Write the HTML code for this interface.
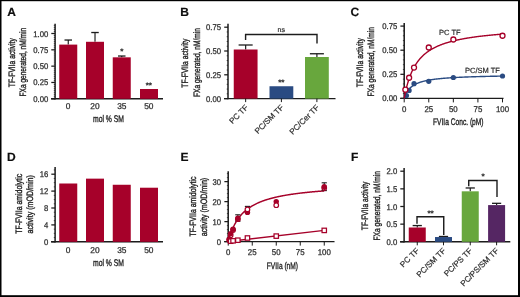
<!DOCTYPE html>
<html><head><meta charset="utf-8"><title>Figure</title>
<style>
html,body{margin:0;padding:0;background:#fff;}
body{width:520px;height:297px;overflow:hidden;position:relative;font-family:"Liberation Sans",sans-serif;}
svg{position:absolute;left:0;top:0;display:block;opacity:0.999;will-change:transform;font-family:"Liberation Sans",sans-serif;}
.bd{position:absolute;background:#000;}
</style></head><body>
<svg width="520" height="297" viewBox="0 0 520 297" text-rendering="geometricPrecision">
<rect x="0" y="0" width="520" height="297" fill="#fff"/>
<defs><filter id="soft" x="0" y="0" width="520" height="297" filterUnits="userSpaceOnUse"><feGaussianBlur stdDeviation="0.38"/></filter></defs>
<g filter="url(#soft)">
<text x="7.30" y="15.90" font-size="12" text-anchor="start" font-weight="bold" fill="#111" stroke="#111" stroke-width="0.2">A</text>
<text x="180.30" y="16.10" font-size="12" text-anchor="start" font-weight="bold" fill="#111" stroke="#111" stroke-width="0.2">B</text>
<text x="350.40" y="15.90" font-size="12" text-anchor="start" font-weight="bold" fill="#111" stroke="#111" stroke-width="0.2">C</text>
<text x="7.10" y="160.60" font-size="12" text-anchor="start" font-weight="bold" fill="#111" stroke="#111" stroke-width="0.2">D</text>
<text x="180.60" y="160.90" font-size="12" text-anchor="start" font-weight="bold" fill="#111" stroke="#111" stroke-width="0.2">E</text>
<text x="351.00" y="160.80" font-size="12" text-anchor="start" font-weight="bold" fill="#111" stroke="#111" stroke-width="0.2">F</text>
<line x1="55.10" y1="23.80" x2="55.10" y2="99.40" stroke="#1a1a1a" stroke-width="1.5"/>
<line x1="51.30" y1="98.80" x2="55.10" y2="98.80" stroke="#1a1a1a" stroke-width="1.25"/>
<text transform="translate(48.30 101.80) scale(0.93 1)" font-size="8.3" text-anchor="end" font-weight="normal" fill="#2b2b2b" stroke="#2b2b2b" stroke-width="0.25">0.00</text>
<line x1="51.30" y1="82.47" x2="55.10" y2="82.47" stroke="#1a1a1a" stroke-width="1.25"/>
<text transform="translate(48.30 85.47) scale(0.93 1)" font-size="8.3" text-anchor="end" font-weight="normal" fill="#2b2b2b" stroke="#2b2b2b" stroke-width="0.25">0.25</text>
<line x1="51.30" y1="66.15" x2="55.10" y2="66.15" stroke="#1a1a1a" stroke-width="1.25"/>
<text transform="translate(48.30 69.15) scale(0.93 1)" font-size="8.3" text-anchor="end" font-weight="normal" fill="#2b2b2b" stroke="#2b2b2b" stroke-width="0.25">0.50</text>
<line x1="51.30" y1="49.83" x2="55.10" y2="49.83" stroke="#1a1a1a" stroke-width="1.25"/>
<text transform="translate(48.30 52.83) scale(0.93 1)" font-size="8.3" text-anchor="end" font-weight="normal" fill="#2b2b2b" stroke="#2b2b2b" stroke-width="0.25">0.75</text>
<line x1="51.30" y1="33.50" x2="55.10" y2="33.50" stroke="#1a1a1a" stroke-width="1.25"/>
<text transform="translate(48.30 36.50) scale(0.93 1)" font-size="8.3" text-anchor="end" font-weight="normal" fill="#2b2b2b" stroke="#2b2b2b" stroke-width="0.25">1.00</text>
<line x1="53.80" y1="96.76" x2="55.10" y2="96.76" stroke="#1a1a1a" stroke-width="0.7"/>
<line x1="53.80" y1="94.72" x2="55.10" y2="94.72" stroke="#1a1a1a" stroke-width="0.7"/>
<line x1="53.80" y1="92.68" x2="55.10" y2="92.68" stroke="#1a1a1a" stroke-width="0.7"/>
<line x1="53.80" y1="90.64" x2="55.10" y2="90.64" stroke="#1a1a1a" stroke-width="0.7"/>
<line x1="53.80" y1="88.60" x2="55.10" y2="88.60" stroke="#1a1a1a" stroke-width="0.7"/>
<line x1="53.80" y1="86.56" x2="55.10" y2="86.56" stroke="#1a1a1a" stroke-width="0.7"/>
<line x1="53.80" y1="84.52" x2="55.10" y2="84.52" stroke="#1a1a1a" stroke-width="0.7"/>
<line x1="53.80" y1="80.43" x2="55.10" y2="80.43" stroke="#1a1a1a" stroke-width="0.7"/>
<line x1="53.80" y1="78.39" x2="55.10" y2="78.39" stroke="#1a1a1a" stroke-width="0.7"/>
<line x1="53.80" y1="76.35" x2="55.10" y2="76.35" stroke="#1a1a1a" stroke-width="0.7"/>
<line x1="53.80" y1="74.31" x2="55.10" y2="74.31" stroke="#1a1a1a" stroke-width="0.7"/>
<line x1="53.80" y1="72.27" x2="55.10" y2="72.27" stroke="#1a1a1a" stroke-width="0.7"/>
<line x1="53.80" y1="70.23" x2="55.10" y2="70.23" stroke="#1a1a1a" stroke-width="0.7"/>
<line x1="53.80" y1="68.19" x2="55.10" y2="68.19" stroke="#1a1a1a" stroke-width="0.7"/>
<line x1="53.80" y1="64.11" x2="55.10" y2="64.11" stroke="#1a1a1a" stroke-width="0.7"/>
<line x1="53.80" y1="62.07" x2="55.10" y2="62.07" stroke="#1a1a1a" stroke-width="0.7"/>
<line x1="53.80" y1="60.03" x2="55.10" y2="60.03" stroke="#1a1a1a" stroke-width="0.7"/>
<line x1="53.80" y1="57.99" x2="55.10" y2="57.99" stroke="#1a1a1a" stroke-width="0.7"/>
<line x1="53.80" y1="55.95" x2="55.10" y2="55.95" stroke="#1a1a1a" stroke-width="0.7"/>
<line x1="53.80" y1="53.91" x2="55.10" y2="53.91" stroke="#1a1a1a" stroke-width="0.7"/>
<line x1="53.80" y1="51.87" x2="55.10" y2="51.87" stroke="#1a1a1a" stroke-width="0.7"/>
<line x1="53.80" y1="47.78" x2="55.10" y2="47.78" stroke="#1a1a1a" stroke-width="0.7"/>
<line x1="53.80" y1="45.74" x2="55.10" y2="45.74" stroke="#1a1a1a" stroke-width="0.7"/>
<line x1="53.80" y1="43.70" x2="55.10" y2="43.70" stroke="#1a1a1a" stroke-width="0.7"/>
<line x1="53.80" y1="41.66" x2="55.10" y2="41.66" stroke="#1a1a1a" stroke-width="0.7"/>
<line x1="53.80" y1="39.62" x2="55.10" y2="39.62" stroke="#1a1a1a" stroke-width="0.7"/>
<line x1="53.80" y1="37.58" x2="55.10" y2="37.58" stroke="#1a1a1a" stroke-width="0.7"/>
<line x1="53.80" y1="35.54" x2="55.10" y2="35.54" stroke="#1a1a1a" stroke-width="0.7"/>
<line x1="53.80" y1="31.46" x2="55.10" y2="31.46" stroke="#1a1a1a" stroke-width="0.7"/>
<line x1="53.80" y1="29.42" x2="55.10" y2="29.42" stroke="#1a1a1a" stroke-width="0.7"/>
<line x1="53.80" y1="27.38" x2="55.10" y2="27.38" stroke="#1a1a1a" stroke-width="0.7"/>
<line x1="53.80" y1="25.34" x2="55.10" y2="25.34" stroke="#1a1a1a" stroke-width="0.7"/>
<line x1="51.10" y1="98.80" x2="163.00" y2="98.80" stroke="#1a1a1a" stroke-width="1.4"/>
<line x1="68.25" y1="40.03" x2="68.25" y2="44.60" stroke="#1a1a1a" stroke-width="1.15"/>
<line x1="64.50" y1="40.03" x2="72.00" y2="40.03" stroke="#1a1a1a" stroke-width="1.3"/>
<rect x="59.25" y="44.60" width="18.00" height="54.20" fill="#A60029"/>
<line x1="95.00" y1="32.52" x2="95.00" y2="41.79" stroke="#1a1a1a" stroke-width="1.15"/>
<line x1="91.25" y1="32.52" x2="98.75" y2="32.52" stroke="#1a1a1a" stroke-width="1.3"/>
<rect x="86.00" y="41.79" width="18.00" height="57.01" fill="#A60029"/>
<line x1="121.75" y1="56.03" x2="121.75" y2="57.33" stroke="#1a1a1a" stroke-width="1.15"/>
<line x1="118.00" y1="56.03" x2="125.50" y2="56.03" stroke="#1a1a1a" stroke-width="1.3"/>
<rect x="112.75" y="57.33" width="18.00" height="41.47" fill="#A60029"/>
<rect x="140.00" y="89.00" width="18.00" height="9.79" fill="#A60029"/>
<text transform="translate(68.00 109.40) scale(1.0 1)" font-size="8.4" text-anchor="middle" font-weight="normal" fill="#2b2b2b" stroke="#2b2b2b" stroke-width="0.25">0</text>
<text transform="translate(95.00 109.40) scale(1.0 1)" font-size="8.4" text-anchor="middle" font-weight="normal" fill="#2b2b2b" stroke="#2b2b2b" stroke-width="0.25">20</text>
<text transform="translate(121.80 109.40) scale(1.0 1)" font-size="8.4" text-anchor="middle" font-weight="normal" fill="#2b2b2b" stroke="#2b2b2b" stroke-width="0.25">35</text>
<text transform="translate(148.80 109.40) scale(1.0 1)" font-size="8.4" text-anchor="middle" font-weight="normal" fill="#2b2b2b" stroke="#2b2b2b" stroke-width="0.25">50</text>
<text x="108.50" y="122.40" font-size="9.6" text-anchor="middle" fill="#222" stroke="#222" stroke-width="0.35" textLength="31.00" lengthAdjust="spacingAndGlyphs">mol % SM</text>
<text x="121.80" y="54.00" font-size="8" text-anchor="middle" font-weight="bold" fill="#2b2b2b" stroke="#2b2b2b" stroke-width="0.2">*</text>
<text x="148.80" y="87.70" font-size="8" text-anchor="middle" font-weight="bold" fill="#2b2b2b" stroke="#2b2b2b" stroke-width="0.2">**</text>
<text x="15.20" y="62.70" font-size="9.3" text-anchor="middle" fill="#222" stroke="#222" stroke-width="0.35" textLength="49.00" lengthAdjust="spacingAndGlyphs" transform="rotate(-90 15.20 62.70)">TF-FVIIa activity</text>
<text x="26.00" y="62.20" font-size="9.3" text-anchor="middle" fill="#222" stroke="#222" stroke-width="0.35" textLength="68.50" lengthAdjust="spacingAndGlyphs" transform="rotate(-90 26.00 62.20)">FXa generated, nM/min</text>
<line x1="228.00" y1="23.80" x2="228.00" y2="99.20" stroke="#1a1a1a" stroke-width="1.5"/>
<line x1="224.20" y1="98.60" x2="228.00" y2="98.60" stroke="#1a1a1a" stroke-width="1.25"/>
<text transform="translate(221.10 101.60) scale(0.93 1)" font-size="8.3" text-anchor="end" font-weight="normal" fill="#2b2b2b" stroke="#2b2b2b" stroke-width="0.25">0.00</text>
<line x1="224.20" y1="74.80" x2="228.00" y2="74.80" stroke="#1a1a1a" stroke-width="1.25"/>
<text transform="translate(221.10 77.80) scale(0.93 1)" font-size="8.3" text-anchor="end" font-weight="normal" fill="#2b2b2b" stroke="#2b2b2b" stroke-width="0.25">0.25</text>
<line x1="224.20" y1="51.00" x2="228.00" y2="51.00" stroke="#1a1a1a" stroke-width="1.25"/>
<text transform="translate(221.10 54.00) scale(0.93 1)" font-size="8.3" text-anchor="end" font-weight="normal" fill="#2b2b2b" stroke="#2b2b2b" stroke-width="0.25">0.50</text>
<line x1="224.20" y1="27.20" x2="228.00" y2="27.20" stroke="#1a1a1a" stroke-width="1.25"/>
<text transform="translate(221.10 30.20) scale(0.93 1)" font-size="8.3" text-anchor="end" font-weight="normal" fill="#2b2b2b" stroke="#2b2b2b" stroke-width="0.25">0.75</text>
<line x1="226.70" y1="93.84" x2="228.00" y2="93.84" stroke="#1a1a1a" stroke-width="0.7"/>
<line x1="226.70" y1="89.08" x2="228.00" y2="89.08" stroke="#1a1a1a" stroke-width="0.7"/>
<line x1="226.70" y1="84.32" x2="228.00" y2="84.32" stroke="#1a1a1a" stroke-width="0.7"/>
<line x1="226.70" y1="79.56" x2="228.00" y2="79.56" stroke="#1a1a1a" stroke-width="0.7"/>
<line x1="226.70" y1="70.04" x2="228.00" y2="70.04" stroke="#1a1a1a" stroke-width="0.7"/>
<line x1="226.70" y1="65.28" x2="228.00" y2="65.28" stroke="#1a1a1a" stroke-width="0.7"/>
<line x1="226.70" y1="60.52" x2="228.00" y2="60.52" stroke="#1a1a1a" stroke-width="0.7"/>
<line x1="226.70" y1="55.76" x2="228.00" y2="55.76" stroke="#1a1a1a" stroke-width="0.7"/>
<line x1="226.70" y1="46.24" x2="228.00" y2="46.24" stroke="#1a1a1a" stroke-width="0.7"/>
<line x1="226.70" y1="41.48" x2="228.00" y2="41.48" stroke="#1a1a1a" stroke-width="0.7"/>
<line x1="226.70" y1="36.72" x2="228.00" y2="36.72" stroke="#1a1a1a" stroke-width="0.7"/>
<line x1="226.70" y1="31.96" x2="228.00" y2="31.96" stroke="#1a1a1a" stroke-width="0.7"/>
<line x1="224.00" y1="98.60" x2="335.50" y2="98.60" stroke="#1a1a1a" stroke-width="1.4"/>
<line x1="245.65" y1="45.00" x2="245.65" y2="49.50" stroke="#1a1a1a" stroke-width="1.15"/>
<line x1="238.65" y1="45.00" x2="252.65" y2="45.00" stroke="#1a1a1a" stroke-width="1.3"/>
<rect x="233.75" y="49.50" width="23.80" height="49.10" fill="#A60029"/>
<line x1="245.65" y1="98.60" x2="245.65" y2="102.10" stroke="#1a1a1a" stroke-width="1"/>
<rect x="269.50" y="86.25" width="23.80" height="12.35" fill="#2A4B82"/>
<line x1="281.40" y1="98.60" x2="281.40" y2="102.10" stroke="#1a1a1a" stroke-width="1"/>
<line x1="316.90" y1="53.76" x2="316.90" y2="57.00" stroke="#1a1a1a" stroke-width="1.15"/>
<line x1="309.90" y1="53.76" x2="323.90" y2="53.76" stroke="#1a1a1a" stroke-width="1.3"/>
<rect x="305.00" y="57.00" width="23.80" height="41.60" fill="#68A73E"/>
<line x1="316.90" y1="98.60" x2="316.90" y2="102.10" stroke="#1a1a1a" stroke-width="1"/>
<path d="M245.6 40 V34.5 H317 V43.6" fill="none" stroke="#1a1a1a" stroke-width="1.4"/>
<text x="281.30" y="31.80" font-size="7" text-anchor="middle" font-weight="normal" fill="#2b2b2b" stroke="#2b2b2b" stroke-width="0.2">ns</text>
<text x="281.30" y="84.50" font-size="8" text-anchor="middle" font-weight="bold" fill="#2b2b2b" stroke="#2b2b2b" stroke-width="0.2">**</text>
<text x="248.70" y="108.00" font-size="8" text-anchor="end" font-weight="normal" fill="#2b2b2b" stroke="#2b2b2b" stroke-width="0.2" transform="rotate(-45 248.70 108.00)">PC TF</text>
<text x="284.20" y="108.00" font-size="8" text-anchor="end" font-weight="normal" fill="#2b2b2b" stroke="#2b2b2b" stroke-width="0.2" transform="rotate(-45 284.20 108.00)">PC/SM TF</text>
<text x="319.70" y="108.00" font-size="8" text-anchor="end" font-weight="normal" fill="#2b2b2b" stroke="#2b2b2b" stroke-width="0.2" transform="rotate(-45 319.70 108.00)">PC/Cer TF</text>
<text x="188.30" y="63.20" font-size="9.3" text-anchor="middle" fill="#222" stroke="#222" stroke-width="0.35" textLength="49.00" lengthAdjust="spacingAndGlyphs" transform="rotate(-90 188.30 63.20)">TF-FVIIa activity</text>
<text x="199.50" y="62.50" font-size="9.3" text-anchor="middle" fill="#222" stroke="#222" stroke-width="0.35" textLength="69.00" lengthAdjust="spacingAndGlyphs" transform="rotate(-90 199.50 62.50)">FXa generated, nM/min</text>
<line x1="404.20" y1="22.90" x2="404.20" y2="99.00" stroke="#1a1a1a" stroke-width="1.5"/>
<line x1="400.40" y1="98.40" x2="404.20" y2="98.40" stroke="#1a1a1a" stroke-width="1.25"/>
<text transform="translate(397.30 101.40) scale(0.93 1)" font-size="8.3" text-anchor="end" font-weight="normal" fill="#2b2b2b" stroke="#2b2b2b" stroke-width="0.25">0.00</text>
<line x1="400.40" y1="74.30" x2="404.20" y2="74.30" stroke="#1a1a1a" stroke-width="1.25"/>
<text transform="translate(397.30 77.30) scale(0.93 1)" font-size="8.3" text-anchor="end" font-weight="normal" fill="#2b2b2b" stroke="#2b2b2b" stroke-width="0.25">0.25</text>
<line x1="400.40" y1="50.20" x2="404.20" y2="50.20" stroke="#1a1a1a" stroke-width="1.25"/>
<text transform="translate(397.30 53.20) scale(0.93 1)" font-size="8.3" text-anchor="end" font-weight="normal" fill="#2b2b2b" stroke="#2b2b2b" stroke-width="0.25">0.50</text>
<line x1="400.40" y1="26.10" x2="404.20" y2="26.10" stroke="#1a1a1a" stroke-width="1.25"/>
<text transform="translate(397.30 29.10) scale(0.93 1)" font-size="8.3" text-anchor="end" font-weight="normal" fill="#2b2b2b" stroke="#2b2b2b" stroke-width="0.25">0.75</text>
<line x1="402.90" y1="93.58" x2="404.20" y2="93.58" stroke="#1a1a1a" stroke-width="0.7"/>
<line x1="402.90" y1="88.76" x2="404.20" y2="88.76" stroke="#1a1a1a" stroke-width="0.7"/>
<line x1="402.90" y1="83.94" x2="404.20" y2="83.94" stroke="#1a1a1a" stroke-width="0.7"/>
<line x1="402.90" y1="79.12" x2="404.20" y2="79.12" stroke="#1a1a1a" stroke-width="0.7"/>
<line x1="402.90" y1="69.48" x2="404.20" y2="69.48" stroke="#1a1a1a" stroke-width="0.7"/>
<line x1="402.90" y1="64.66" x2="404.20" y2="64.66" stroke="#1a1a1a" stroke-width="0.7"/>
<line x1="402.90" y1="59.84" x2="404.20" y2="59.84" stroke="#1a1a1a" stroke-width="0.7"/>
<line x1="402.90" y1="55.02" x2="404.20" y2="55.02" stroke="#1a1a1a" stroke-width="0.7"/>
<line x1="402.90" y1="45.38" x2="404.20" y2="45.38" stroke="#1a1a1a" stroke-width="0.7"/>
<line x1="402.90" y1="40.56" x2="404.20" y2="40.56" stroke="#1a1a1a" stroke-width="0.7"/>
<line x1="402.90" y1="35.74" x2="404.20" y2="35.74" stroke="#1a1a1a" stroke-width="0.7"/>
<line x1="402.90" y1="30.92" x2="404.20" y2="30.92" stroke="#1a1a1a" stroke-width="0.7"/>
<line x1="400.20" y1="98.40" x2="503.50" y2="98.40" stroke="#1a1a1a" stroke-width="1.4"/>
<line x1="404.20" y1="98.40" x2="404.20" y2="102.40" stroke="#1a1a1a" stroke-width="1"/>
<text transform="translate(404.20 111.70) scale(0.95 1)" font-size="8.3" text-anchor="middle" font-weight="normal" fill="#2b2b2b" stroke="#2b2b2b" stroke-width="0.25">0</text>
<line x1="428.77" y1="98.40" x2="428.77" y2="102.40" stroke="#1a1a1a" stroke-width="1"/>
<text transform="translate(428.77 111.70) scale(0.95 1)" font-size="8.3" text-anchor="middle" font-weight="normal" fill="#2b2b2b" stroke="#2b2b2b" stroke-width="0.25">25</text>
<line x1="453.35" y1="98.40" x2="453.35" y2="102.40" stroke="#1a1a1a" stroke-width="1"/>
<text transform="translate(453.35 111.70) scale(0.95 1)" font-size="8.3" text-anchor="middle" font-weight="normal" fill="#2b2b2b" stroke="#2b2b2b" stroke-width="0.25">50</text>
<line x1="477.92" y1="98.40" x2="477.92" y2="102.40" stroke="#1a1a1a" stroke-width="1"/>
<text transform="translate(477.92 111.70) scale(0.95 1)" font-size="8.3" text-anchor="middle" font-weight="normal" fill="#2b2b2b" stroke="#2b2b2b" stroke-width="0.25">75</text>
<line x1="502.50" y1="98.40" x2="502.50" y2="102.40" stroke="#1a1a1a" stroke-width="1"/>
<text transform="translate(502.50 111.70) scale(0.95 1)" font-size="8.3" text-anchor="middle" font-weight="normal" fill="#2b2b2b" stroke="#2b2b2b" stroke-width="0.25">100</text>
<text x="458.30" y="125.40" font-size="9.6" text-anchor="middle" fill="#222" stroke="#222" stroke-width="0.35" textLength="50.50" lengthAdjust="spacingAndGlyphs">FVIIa Conc. (pM)</text>
<path d="M404.20 98.40 404.69 96.98 405.18 95.72 405.67 94.59 406.17 93.58 406.66 92.66 407.15 91.83 407.64 91.07 408.13 90.37 408.62 89.72 409.12 89.13 409.61 88.58 410.10 88.07 410.59 87.60 411.08 87.15 411.57 86.74 412.06 86.35 412.56 85.98 413.05 85.64 413.54 85.32 414.03 85.01 414.52 84.72 415.01 84.45 415.50 84.19 416.00 83.94 416.49 83.70 416.98 83.48 417.47 83.27 417.96 83.06 418.45 82.87 418.94 82.68 419.44 82.50 419.93 82.33 420.42 82.17 420.91 82.01 421.40 81.86 421.89 81.72 422.39 81.58 422.88 81.44 423.37 81.31 423.86 81.19 424.35 81.06 424.84 80.95 425.33 80.84 425.83 80.73 426.32 80.62 426.81 80.52 427.30 80.42 427.79 80.33 428.28 80.23 428.77 80.14 429.27 80.06 429.76 79.97 430.25 79.89 430.74 79.81 431.23 79.73 431.72 79.66 432.22 79.58 432.71 79.51 433.20 79.44 433.69 79.37 434.18 79.31 434.67 79.24 435.16 79.18 435.66 79.12 436.15 79.06 436.64 79.00 437.13 78.95 437.62 78.89 438.11 78.84 438.61 78.78 439.10 78.73 439.59 78.68 440.08 78.63 440.57 78.58 441.06 78.54 441.55 78.49 442.05 78.45 442.54 78.40 443.03 78.36 443.52 78.32 444.01 78.28 444.50 78.23 444.99 78.19 445.49 78.16 445.98 78.12 446.47 78.08 446.96 78.04 447.45 78.01 447.94 77.97 448.44 77.94 448.93 77.90 449.42 77.87 449.91 77.84 450.40 77.81 450.89 77.77 451.38 77.74 451.88 77.71 452.37 77.68 452.86 77.65 453.35 77.62 453.84 77.60 454.33 77.57 454.82 77.54 455.32 77.51 455.81 77.49 456.30 77.46 456.79 77.43 457.28 77.41 457.77 77.38 458.26 77.36 458.76 77.34 459.25 77.31 459.74 77.29 460.23 77.27 460.72 77.24 461.21 77.22 461.71 77.20 462.20 77.18 462.69 77.16 463.18 77.14 463.67 77.11 464.16 77.09 464.65 77.07 465.15 77.05 465.64 77.03 466.13 77.02 466.62 77.00 467.11 76.98 467.60 76.96 468.09 76.94 468.59 76.92 469.08 76.91 469.57 76.89 470.06 76.87 470.55 76.85 471.04 76.84 471.54 76.82 472.03 76.80 472.52 76.79 473.01 76.77 473.50 76.76 473.99 76.74 474.48 76.73 474.98 76.71 475.47 76.70 475.96 76.68 476.45 76.67 476.94 76.65 477.43 76.64 477.92 76.62 478.42 76.61 478.91 76.60 479.40 76.58 479.89 76.57 480.38 76.55 480.87 76.54 481.37 76.53 481.86 76.52 482.35 76.50 482.84 76.49 483.33 76.48 483.82 76.47 484.31 76.45 484.81 76.44 485.30 76.43 485.79 76.42 486.28 76.41 486.77 76.40 487.26 76.38 487.75 76.37 488.25 76.36 488.74 76.35 489.23 76.34 489.72 76.33 490.21 76.32 490.70 76.31 491.20 76.30 491.69 76.29 492.18 76.28 492.67 76.27 493.16 76.26 493.65 76.25 494.14 76.24 494.64 76.23 495.13 76.22 495.62 76.21 496.11 76.20 496.60 76.19 497.09 76.18 497.58 76.17 498.08 76.16 498.57 76.15 499.06 76.14 499.55 76.14 500.04 76.13 500.53 76.12 501.03 76.11 501.52 76.10 502.01 76.09 502.50 76.09 " fill="none" stroke="#2A4B82" stroke-width="1.4"/>
<circle cx="406.46" cy="95.51" r="2.6" fill="#2A4B82"/>
<circle cx="409.12" cy="90.40" r="2.6" fill="#2A4B82"/>
<circle cx="414.03" cy="83.65" r="2.6" fill="#2A4B82"/>
<circle cx="428.77" cy="81.34" r="2.6" fill="#2A4B82"/>
<circle cx="453.35" cy="77.50" r="2.6" fill="#2A4B82"/>
<circle cx="502.50" cy="76.00" r="2.6" fill="#2A4B82"/>
<path d="M404.20 98.40 404.69 95.79 405.18 93.37 405.67 91.10 406.17 88.98 406.66 87.00 407.15 85.13 407.64 83.38 408.13 81.72 408.62 80.16 409.12 78.68 409.61 77.28 410.10 75.95 410.59 74.68 411.08 73.48 411.57 72.34 412.06 71.25 412.56 70.21 413.05 69.21 413.54 68.26 414.03 67.35 414.52 66.47 415.01 65.64 415.50 64.83 416.00 64.06 416.49 63.32 416.98 62.60 417.47 61.91 417.96 61.25 418.45 60.61 418.94 59.99 419.44 59.40 419.93 58.82 420.42 58.26 420.91 57.73 421.40 57.20 421.89 56.70 422.39 56.21 422.88 55.74 423.37 55.28 423.86 54.83 424.35 54.40 424.84 53.98 425.33 53.57 425.83 53.18 426.32 52.79 426.81 52.42 427.30 52.05 427.79 51.70 428.28 51.35 428.77 51.01 429.27 50.69 429.76 50.37 430.25 50.05 430.74 49.75 431.23 49.45 431.72 49.16 432.22 48.88 432.71 48.61 433.20 48.34 433.69 48.07 434.18 47.82 434.67 47.56 435.16 47.32 435.66 47.08 436.15 46.84 436.64 46.61 437.13 46.39 437.62 46.17 438.11 45.95 438.61 45.74 439.10 45.53 439.59 45.33 440.08 45.13 440.57 44.93 441.06 44.74 441.55 44.55 442.05 44.37 442.54 44.19 443.03 44.01 443.52 43.84 444.01 43.67 444.50 43.50 444.99 43.34 445.49 43.18 445.98 43.02 446.47 42.86 446.96 42.71 447.45 42.56 447.94 42.41 448.44 42.27 448.93 42.12 449.42 41.98 449.91 41.84 450.40 41.71 450.89 41.58 451.38 41.44 451.88 41.31 452.37 41.19 452.86 41.06 453.35 40.94 453.84 40.82 454.33 40.70 454.82 40.58 455.32 40.47 455.81 40.35 456.30 40.24 456.79 40.13 457.28 40.02 457.77 39.91 458.26 39.81 458.76 39.70 459.25 39.60 459.74 39.50 460.23 39.40 460.72 39.30 461.21 39.20 461.71 39.11 462.20 39.01 462.69 38.92 463.18 38.83 463.67 38.74 464.16 38.65 464.65 38.56 465.15 38.47 465.64 38.39 466.13 38.30 466.62 38.22 467.11 38.14 467.60 38.06 468.09 37.98 468.59 37.90 469.08 37.82 469.57 37.74 470.06 37.66 470.55 37.59 471.04 37.51 471.54 37.44 472.03 37.37 472.52 37.29 473.01 37.22 473.50 37.15 473.99 37.08 474.48 37.02 474.98 36.95 475.47 36.88 475.96 36.81 476.45 36.75 476.94 36.68 477.43 36.62 477.92 36.56 478.42 36.49 478.91 36.43 479.40 36.37 479.89 36.31 480.38 36.25 480.87 36.19 481.37 36.13 481.86 36.08 482.35 36.02 482.84 35.96 483.33 35.91 483.82 35.85 484.31 35.80 484.81 35.74 485.30 35.69 485.79 35.63 486.28 35.58 486.77 35.53 487.26 35.48 487.75 35.43 488.25 35.38 488.74 35.33 489.23 35.28 489.72 35.23 490.21 35.18 490.70 35.13 491.20 35.08 491.69 35.04 492.18 34.99 492.67 34.94 493.16 34.90 493.65 34.85 494.14 34.81 494.64 34.76 495.13 34.72 495.62 34.68 496.11 34.63 496.60 34.59 497.09 34.55 497.58 34.51 498.08 34.46 498.57 34.42 499.06 34.38 499.55 34.34 500.04 34.30 500.53 34.26 501.03 34.22 501.52 34.18 502.01 34.14 502.50 34.11 " fill="none" stroke="#A60029" stroke-width="1.4"/>
<circle cx="405.38" cy="89.72" r="2.5" fill="#fff" stroke="#A60029" stroke-width="1.3"/>
<circle cx="409.12" cy="77.77" r="2.5" fill="#fff" stroke="#A60029" stroke-width="1.3"/>
<circle cx="414.03" cy="67.55" r="2.5" fill="#fff" stroke="#A60029" stroke-width="1.3"/>
<circle cx="428.77" cy="47.50" r="2.5" fill="#fff" stroke="#A60029" stroke-width="1.3"/>
<circle cx="453.35" cy="39.50" r="2.5" fill="#fff" stroke="#A60029" stroke-width="1.3"/>
<circle cx="502.50" cy="35.74" r="2.5" fill="#fff" stroke="#A60029" stroke-width="1.3"/>
<text x="449.80" y="35.00" font-size="7.5" text-anchor="middle" font-weight="normal" fill="#2b2b2b" stroke="#2b2b2b" stroke-width="0.2">PC TF</text>
<text x="482.50" y="72.50" font-size="7.5" text-anchor="middle" font-weight="normal" fill="#2b2b2b" stroke="#2b2b2b" stroke-width="0.2">PC/SM TF</text>
<text x="363.20" y="62.70" font-size="9.3" text-anchor="middle" fill="#222" stroke="#222" stroke-width="0.35" textLength="49.00" lengthAdjust="spacingAndGlyphs" transform="rotate(-90 363.20 62.70)">TF-FVIIa activity</text>
<text x="374.40" y="61.70" font-size="9.3" text-anchor="middle" fill="#222" stroke="#222" stroke-width="0.35" textLength="69.50" lengthAdjust="spacingAndGlyphs" transform="rotate(-90 374.40 61.70)">FXa generated, nM/min</text>
<line x1="55.10" y1="166.90" x2="55.10" y2="242.40" stroke="#1a1a1a" stroke-width="1.5"/>
<line x1="51.30" y1="241.80" x2="55.10" y2="241.80" stroke="#1a1a1a" stroke-width="1.25"/>
<text transform="translate(48.30 244.80) scale(0.93 1)" font-size="8.3" text-anchor="end" font-weight="normal" fill="#2b2b2b" stroke="#2b2b2b" stroke-width="0.25">0</text>
<line x1="51.30" y1="224.90" x2="55.10" y2="224.90" stroke="#1a1a1a" stroke-width="1.25"/>
<text transform="translate(48.30 227.90) scale(0.93 1)" font-size="8.3" text-anchor="end" font-weight="normal" fill="#2b2b2b" stroke="#2b2b2b" stroke-width="0.25">4</text>
<line x1="51.30" y1="208.00" x2="55.10" y2="208.00" stroke="#1a1a1a" stroke-width="1.25"/>
<text transform="translate(48.30 211.00) scale(0.93 1)" font-size="8.3" text-anchor="end" font-weight="normal" fill="#2b2b2b" stroke="#2b2b2b" stroke-width="0.25">8</text>
<line x1="51.30" y1="191.10" x2="55.10" y2="191.10" stroke="#1a1a1a" stroke-width="1.25"/>
<text transform="translate(48.30 194.10) scale(0.93 1)" font-size="8.3" text-anchor="end" font-weight="normal" fill="#2b2b2b" stroke="#2b2b2b" stroke-width="0.25">12</text>
<line x1="51.30" y1="174.20" x2="55.10" y2="174.20" stroke="#1a1a1a" stroke-width="1.25"/>
<text transform="translate(48.30 177.20) scale(0.93 1)" font-size="8.3" text-anchor="end" font-weight="normal" fill="#2b2b2b" stroke="#2b2b2b" stroke-width="0.25">16</text>
<line x1="53.80" y1="237.58" x2="55.10" y2="237.58" stroke="#1a1a1a" stroke-width="0.7"/>
<line x1="53.80" y1="233.35" x2="55.10" y2="233.35" stroke="#1a1a1a" stroke-width="0.7"/>
<line x1="53.80" y1="229.12" x2="55.10" y2="229.12" stroke="#1a1a1a" stroke-width="0.7"/>
<line x1="53.80" y1="220.68" x2="55.10" y2="220.68" stroke="#1a1a1a" stroke-width="0.7"/>
<line x1="53.80" y1="216.45" x2="55.10" y2="216.45" stroke="#1a1a1a" stroke-width="0.7"/>
<line x1="53.80" y1="212.23" x2="55.10" y2="212.23" stroke="#1a1a1a" stroke-width="0.7"/>
<line x1="53.80" y1="203.78" x2="55.10" y2="203.78" stroke="#1a1a1a" stroke-width="0.7"/>
<line x1="53.80" y1="199.55" x2="55.10" y2="199.55" stroke="#1a1a1a" stroke-width="0.7"/>
<line x1="53.80" y1="195.33" x2="55.10" y2="195.33" stroke="#1a1a1a" stroke-width="0.7"/>
<line x1="53.80" y1="186.88" x2="55.10" y2="186.88" stroke="#1a1a1a" stroke-width="0.7"/>
<line x1="53.80" y1="182.65" x2="55.10" y2="182.65" stroke="#1a1a1a" stroke-width="0.7"/>
<line x1="53.80" y1="178.43" x2="55.10" y2="178.43" stroke="#1a1a1a" stroke-width="0.7"/>
<line x1="53.80" y1="169.98" x2="55.10" y2="169.98" stroke="#1a1a1a" stroke-width="0.7"/>
<line x1="51.10" y1="241.80" x2="163.00" y2="241.80" stroke="#1a1a1a" stroke-width="1.4"/>
<rect x="59.25" y="183.50" width="18.00" height="58.30" fill="#A60029"/>
<rect x="86.00" y="178.64" width="18.00" height="63.16" fill="#A60029"/>
<rect x="112.75" y="184.76" width="18.00" height="57.04" fill="#A60029"/>
<rect x="140.00" y="187.72" width="18.00" height="54.08" fill="#A60029"/>
<text transform="translate(68.00 252.60) scale(1.0 1)" font-size="8.4" text-anchor="middle" font-weight="normal" fill="#2b2b2b" stroke="#2b2b2b" stroke-width="0.25">0</text>
<text transform="translate(95.00 252.60) scale(1.0 1)" font-size="8.4" text-anchor="middle" font-weight="normal" fill="#2b2b2b" stroke="#2b2b2b" stroke-width="0.25">20</text>
<text transform="translate(121.80 252.60) scale(1.0 1)" font-size="8.4" text-anchor="middle" font-weight="normal" fill="#2b2b2b" stroke="#2b2b2b" stroke-width="0.25">35</text>
<text transform="translate(148.80 252.60) scale(1.0 1)" font-size="8.4" text-anchor="middle" font-weight="normal" fill="#2b2b2b" stroke="#2b2b2b" stroke-width="0.25">50</text>
<text x="108.50" y="265.70" font-size="9.6" text-anchor="middle" fill="#222" stroke="#222" stroke-width="0.35" textLength="31.00" lengthAdjust="spacingAndGlyphs">mol % SM</text>
<text x="22.20" y="203.80" font-size="9.3" text-anchor="middle" fill="#222" stroke="#222" stroke-width="0.35" textLength="60.00" lengthAdjust="spacingAndGlyphs" transform="rotate(-90 22.20 203.80)">TF-FVIIa amidolytic</text>
<text x="33.30" y="204.30" font-size="9.3" text-anchor="middle" fill="#222" stroke="#222" stroke-width="0.35" textLength="58.50" lengthAdjust="spacingAndGlyphs" transform="rotate(-90 33.30 204.30)">activity (mOD/min)</text>
<line x1="228.20" y1="171.20" x2="228.20" y2="242.20" stroke="#1a1a1a" stroke-width="1.5"/>
<line x1="224.40" y1="241.60" x2="228.20" y2="241.60" stroke="#1a1a1a" stroke-width="1.25"/>
<text transform="translate(221.10 244.60) scale(0.93 1)" font-size="8.3" text-anchor="end" font-weight="normal" fill="#2b2b2b" stroke="#2b2b2b" stroke-width="0.25">0</text>
<line x1="224.40" y1="221.60" x2="228.20" y2="221.60" stroke="#1a1a1a" stroke-width="1.25"/>
<text transform="translate(221.10 224.60) scale(0.93 1)" font-size="8.3" text-anchor="end" font-weight="normal" fill="#2b2b2b" stroke="#2b2b2b" stroke-width="0.25">10</text>
<line x1="224.40" y1="201.60" x2="228.20" y2="201.60" stroke="#1a1a1a" stroke-width="1.25"/>
<text transform="translate(221.10 204.60) scale(0.93 1)" font-size="8.3" text-anchor="end" font-weight="normal" fill="#2b2b2b" stroke="#2b2b2b" stroke-width="0.25">20</text>
<line x1="224.40" y1="181.60" x2="228.20" y2="181.60" stroke="#1a1a1a" stroke-width="1.25"/>
<text transform="translate(221.10 184.60) scale(0.93 1)" font-size="8.3" text-anchor="end" font-weight="normal" fill="#2b2b2b" stroke="#2b2b2b" stroke-width="0.25">30</text>
<line x1="226.90" y1="237.60" x2="228.20" y2="237.60" stroke="#1a1a1a" stroke-width="0.7"/>
<line x1="226.90" y1="233.60" x2="228.20" y2="233.60" stroke="#1a1a1a" stroke-width="0.7"/>
<line x1="226.90" y1="229.60" x2="228.20" y2="229.60" stroke="#1a1a1a" stroke-width="0.7"/>
<line x1="226.90" y1="225.60" x2="228.20" y2="225.60" stroke="#1a1a1a" stroke-width="0.7"/>
<line x1="226.90" y1="217.60" x2="228.20" y2="217.60" stroke="#1a1a1a" stroke-width="0.7"/>
<line x1="226.90" y1="213.60" x2="228.20" y2="213.60" stroke="#1a1a1a" stroke-width="0.7"/>
<line x1="226.90" y1="209.60" x2="228.20" y2="209.60" stroke="#1a1a1a" stroke-width="0.7"/>
<line x1="226.90" y1="205.60" x2="228.20" y2="205.60" stroke="#1a1a1a" stroke-width="0.7"/>
<line x1="226.90" y1="197.60" x2="228.20" y2="197.60" stroke="#1a1a1a" stroke-width="0.7"/>
<line x1="226.90" y1="193.60" x2="228.20" y2="193.60" stroke="#1a1a1a" stroke-width="0.7"/>
<line x1="226.90" y1="189.60" x2="228.20" y2="189.60" stroke="#1a1a1a" stroke-width="0.7"/>
<line x1="226.90" y1="185.60" x2="228.20" y2="185.60" stroke="#1a1a1a" stroke-width="0.7"/>
<line x1="226.90" y1="177.60" x2="228.20" y2="177.60" stroke="#1a1a1a" stroke-width="0.7"/>
<line x1="226.90" y1="173.60" x2="228.20" y2="173.60" stroke="#1a1a1a" stroke-width="0.7"/>
<line x1="224.20" y1="241.60" x2="334.50" y2="241.60" stroke="#1a1a1a" stroke-width="1.4"/>
<line x1="228.25" y1="241.60" x2="228.25" y2="245.60" stroke="#1a1a1a" stroke-width="1"/>
<text transform="translate(228.25 255.40) scale(0.95 1)" font-size="8.3" text-anchor="middle" font-weight="normal" fill="#2b2b2b" stroke="#2b2b2b" stroke-width="0.25">0</text>
<line x1="252.25" y1="241.60" x2="252.25" y2="245.60" stroke="#1a1a1a" stroke-width="1"/>
<text transform="translate(252.25 255.40) scale(0.95 1)" font-size="8.3" text-anchor="middle" font-weight="normal" fill="#2b2b2b" stroke="#2b2b2b" stroke-width="0.25">25</text>
<line x1="276.25" y1="241.60" x2="276.25" y2="245.60" stroke="#1a1a1a" stroke-width="1"/>
<text transform="translate(276.25 255.40) scale(0.95 1)" font-size="8.3" text-anchor="middle" font-weight="normal" fill="#2b2b2b" stroke="#2b2b2b" stroke-width="0.25">50</text>
<line x1="300.25" y1="241.60" x2="300.25" y2="245.60" stroke="#1a1a1a" stroke-width="1"/>
<text transform="translate(300.25 255.40) scale(0.95 1)" font-size="8.3" text-anchor="middle" font-weight="normal" fill="#2b2b2b" stroke="#2b2b2b" stroke-width="0.25">75</text>
<line x1="324.25" y1="241.60" x2="324.25" y2="245.60" stroke="#1a1a1a" stroke-width="1"/>
<text transform="translate(324.25 255.40) scale(0.95 1)" font-size="8.3" text-anchor="middle" font-weight="normal" fill="#2b2b2b" stroke="#2b2b2b" stroke-width="0.25">100</text>
<text x="282.40" y="268.90" font-size="9.6" text-anchor="middle" fill="#222" stroke="#222" stroke-width="0.35" textLength="31.20" lengthAdjust="spacingAndGlyphs">FVIIa (nM)</text>
<path d="M228.25 241.60 228.73 239.84 229.21 238.19 229.69 236.63 230.17 235.15 230.65 233.75 231.13 232.43 231.61 231.17 232.09 229.97 232.57 228.84 233.05 227.75 233.53 226.71 234.01 225.73 234.49 224.78 234.97 223.87 235.45 223.01 235.93 222.18 236.41 221.38 236.89 220.61 237.37 219.88 237.85 219.17 238.33 218.48 238.81 217.83 239.29 217.19 239.77 216.58 240.25 215.99 240.73 215.42 241.21 214.87 241.69 214.34 242.17 213.82 242.65 213.33 243.13 212.84 243.61 212.37 244.09 211.92 244.57 211.48 245.05 211.05 245.53 210.64 246.01 210.24 246.49 209.84 246.97 209.46 247.45 209.09 247.93 208.73 248.41 208.38 248.89 208.04 249.37 207.71 249.85 207.39 250.33 207.07 250.81 206.76 251.29 206.46 251.77 206.17 252.25 205.89 252.73 205.61 253.21 205.34 253.69 205.07 254.17 204.81 254.65 204.56 255.13 204.31 255.61 204.07 256.09 203.83 256.57 203.60 257.05 203.37 257.53 203.15 258.01 202.93 258.49 202.72 258.97 202.51 259.45 202.31 259.93 202.11 260.41 201.91 260.89 201.72 261.37 201.53 261.85 201.35 262.33 201.17 262.81 200.99 263.29 200.81 263.77 200.64 264.25 200.48 264.73 200.31 265.21 200.15 265.69 199.99 266.17 199.83 266.65 199.68 267.13 199.53 267.61 199.38 268.09 199.24 268.57 199.10 269.05 198.96 269.53 198.82 270.01 198.68 270.49 198.55 270.97 198.42 271.45 198.29 271.93 198.16 272.41 198.04 272.89 197.91 273.37 197.79 273.85 197.67 274.33 197.56 274.81 197.44 275.29 197.33 275.77 197.22 276.25 197.11 276.73 197.00 277.21 196.89 277.69 196.78 278.17 196.68 278.65 196.58 279.13 196.48 279.61 196.38 280.09 196.28 280.57 196.18 281.05 196.09 281.53 195.99 282.01 195.90 282.49 195.81 282.97 195.72 283.45 195.63 283.93 195.54 284.41 195.46 284.89 195.37 285.37 195.29 285.85 195.20 286.33 195.12 286.81 195.04 287.29 194.96 287.77 194.88 288.25 194.80 288.73 194.73 289.21 194.65 289.69 194.58 290.17 194.50 290.65 194.43 291.13 194.36 291.61 194.29 292.09 194.21 292.57 194.15 293.05 194.08 293.53 194.01 294.01 193.94 294.49 193.87 294.97 193.81 295.45 193.74 295.93 193.68 296.41 193.62 296.89 193.55 297.37 193.49 297.85 193.43 298.33 193.37 298.81 193.31 299.29 193.25 299.77 193.19 300.25 193.13 300.73 193.08 301.21 193.02 301.69 192.96 302.17 192.91 302.65 192.85 303.13 192.80 303.61 192.74 304.09 192.69 304.57 192.64 305.05 192.59 305.53 192.53 306.01 192.48 306.49 192.43 306.97 192.38 307.45 192.33 307.93 192.28 308.41 192.24 308.89 192.19 309.37 192.14 309.85 192.09 310.33 192.05 310.81 192.00 311.29 191.96 311.77 191.91 312.25 191.86 312.73 191.82 313.21 191.78 313.69 191.73 314.17 191.69 314.65 191.65 315.13 191.60 315.61 191.56 316.09 191.52 316.57 191.48 317.05 191.44 317.53 191.40 318.01 191.36 318.49 191.32 318.97 191.28 319.45 191.24 319.93 191.20 320.41 191.16 320.89 191.13 321.37 191.09 321.85 191.05 322.33 191.01 322.81 190.98 323.29 190.94 323.77 190.90 324.25 190.87 " fill="none" stroke="#A60029" stroke-width="1.5"/>
<line x1="228.25" y1="241.50" x2="324.25" y2="230.40" stroke="#A60029" stroke-width="1.3"/>
<line x1="324.25" y1="182.80" x2="324.25" y2="190.60" stroke="#1a1a1a" stroke-width="1"/>
<line x1="321.65" y1="182.80" x2="326.85" y2="182.80" stroke="#1a1a1a" stroke-width="1.1"/>
<line x1="321.65" y1="190.60" x2="326.85" y2="190.60" stroke="#1a1a1a" stroke-width="1.1"/>
<line x1="247.45" y1="206.40" x2="247.45" y2="212.60" stroke="#1a1a1a" stroke-width="1"/>
<line x1="244.85" y1="206.40" x2="250.05" y2="206.40" stroke="#1a1a1a" stroke-width="1.1"/>
<line x1="244.85" y1="212.60" x2="250.05" y2="212.60" stroke="#1a1a1a" stroke-width="1.1"/>
<line x1="237.85" y1="214.80" x2="237.85" y2="221.20" stroke="#1a1a1a" stroke-width="1"/>
<line x1="235.25" y1="214.80" x2="240.45" y2="214.80" stroke="#1a1a1a" stroke-width="1.1"/>
<line x1="235.25" y1="221.20" x2="240.45" y2="221.20" stroke="#1a1a1a" stroke-width="1.1"/>
<circle cx="229.21" cy="239.20" r="2.7" fill="#A60029"/>
<circle cx="230.65" cy="233.60" r="2.7" fill="#A60029"/>
<circle cx="233.05" cy="229.20" r="2.7" fill="#A60029"/>
<circle cx="237.85" cy="218.20" r="2.7" fill="#A60029"/>
<circle cx="247.45" cy="212.40" r="2.7" fill="#A60029"/>
<circle cx="276.25" cy="201.60" r="2.7" fill="#A60029"/>
<circle cx="324.25" cy="186.80" r="2.7" fill="#A60029"/>
<circle cx="229.21" cy="240.00" r="2.3" fill="none" stroke="#A60029" stroke-width="1.2"/>
<circle cx="230.65" cy="235.20" r="2.3" fill="none" stroke="#A60029" stroke-width="1.2"/>
<circle cx="233.05" cy="230.00" r="2.3" fill="none" stroke="#A60029" stroke-width="1.2"/>
<circle cx="237.85" cy="219.20" r="2.3" fill="none" stroke="#A60029" stroke-width="1.2"/>
<circle cx="247.45" cy="209.40" r="2.3" fill="#fff" stroke="#A60029" stroke-width="1.2"/>
<circle cx="276.25" cy="205.20" r="2.3" fill="#fff" stroke="#A60029" stroke-width="1.2"/>
<circle cx="324.25" cy="188.00" r="2.3" fill="none" stroke="#A60029" stroke-width="1.2"/>
<rect x="228.45" y="239.00" width="4.4" height="4.4" fill="#fff" stroke="#A60029" stroke-width="1.25"/>
<rect x="230.85" y="238.60" width="4.4" height="4.4" fill="#fff" stroke="#A60029" stroke-width="1.25"/>
<rect x="235.65" y="238.00" width="4.4" height="4.4" fill="#fff" stroke="#A60029" stroke-width="1.25"/>
<rect x="245.25" y="235.80" width="4.4" height="4.4" fill="#fff" stroke="#A60029" stroke-width="1.25"/>
<rect x="274.05" y="233.90" width="4.4" height="4.4" fill="#fff" stroke="#A60029" stroke-width="1.25"/>
<rect x="322.05" y="228.20" width="4.4" height="4.4" fill="#fff" stroke="#A60029" stroke-width="1.25"/>
<text x="195.90" y="206.50" font-size="9.3" text-anchor="middle" fill="#222" stroke="#222" stroke-width="0.35" textLength="60.00" lengthAdjust="spacingAndGlyphs" transform="rotate(-90 195.90 206.50)">TF-FVIIa amidolytic</text>
<text x="207.00" y="207.00" font-size="9.3" text-anchor="middle" fill="#222" stroke="#222" stroke-width="0.35" textLength="58.50" lengthAdjust="spacingAndGlyphs" transform="rotate(-90 207.00 207.00)">activity (mOD/min)</text>
<line x1="404.10" y1="168.00" x2="404.10" y2="242.40" stroke="#1a1a1a" stroke-width="1.5"/>
<line x1="400.30" y1="241.80" x2="404.10" y2="241.80" stroke="#1a1a1a" stroke-width="1.25"/>
<text transform="translate(397.30 244.80) scale(0.93 1)" font-size="8.3" text-anchor="end" font-weight="normal" fill="#2b2b2b" stroke="#2b2b2b" stroke-width="0.25">0.0</text>
<line x1="400.30" y1="224.15" x2="404.10" y2="224.15" stroke="#1a1a1a" stroke-width="1.25"/>
<text transform="translate(397.30 227.15) scale(0.93 1)" font-size="8.3" text-anchor="end" font-weight="normal" fill="#2b2b2b" stroke="#2b2b2b" stroke-width="0.25">0.5</text>
<line x1="400.30" y1="206.50" x2="404.10" y2="206.50" stroke="#1a1a1a" stroke-width="1.25"/>
<text transform="translate(397.30 209.50) scale(0.93 1)" font-size="8.3" text-anchor="end" font-weight="normal" fill="#2b2b2b" stroke="#2b2b2b" stroke-width="0.25">1.0</text>
<line x1="400.30" y1="188.85" x2="404.10" y2="188.85" stroke="#1a1a1a" stroke-width="1.25"/>
<text transform="translate(397.30 191.85) scale(0.93 1)" font-size="8.3" text-anchor="end" font-weight="normal" fill="#2b2b2b" stroke="#2b2b2b" stroke-width="0.25">1.5</text>
<line x1="400.30" y1="171.20" x2="404.10" y2="171.20" stroke="#1a1a1a" stroke-width="1.25"/>
<text transform="translate(397.30 174.20) scale(0.93 1)" font-size="8.3" text-anchor="end" font-weight="normal" fill="#2b2b2b" stroke="#2b2b2b" stroke-width="0.25">2.0</text>
<line x1="400.10" y1="241.80" x2="510.30" y2="241.80" stroke="#1a1a1a" stroke-width="1.4"/>
<line x1="417.25" y1="225.56" x2="417.25" y2="227.50" stroke="#1a1a1a" stroke-width="1.15"/>
<line x1="412.65" y1="225.56" x2="421.85" y2="225.56" stroke="#1a1a1a" stroke-width="1.3"/>
<rect x="408.75" y="227.50" width="17.00" height="14.30" fill="#A60029"/>
<line x1="417.25" y1="241.80" x2="417.25" y2="245.30" stroke="#1a1a1a" stroke-width="1"/>
<line x1="443.50" y1="236.51" x2="443.50" y2="237.03" stroke="#1a1a1a" stroke-width="1.15"/>
<line x1="438.90" y1="236.51" x2="448.10" y2="236.51" stroke="#1a1a1a" stroke-width="1.3"/>
<rect x="435.00" y="237.03" width="17.00" height="4.77" fill="#2A4B82"/>
<line x1="443.50" y1="241.80" x2="443.50" y2="245.30" stroke="#1a1a1a" stroke-width="1"/>
<line x1="470.25" y1="187.97" x2="470.25" y2="191.32" stroke="#1a1a1a" stroke-width="1.15"/>
<line x1="465.65" y1="187.97" x2="474.85" y2="187.97" stroke="#1a1a1a" stroke-width="1.3"/>
<rect x="461.75" y="191.32" width="17.00" height="50.48" fill="#68A73E"/>
<line x1="470.25" y1="241.80" x2="470.25" y2="245.30" stroke="#1a1a1a" stroke-width="1"/>
<line x1="496.60" y1="203.32" x2="496.60" y2="205.09" stroke="#1a1a1a" stroke-width="1.15"/>
<line x1="492.00" y1="203.32" x2="501.20" y2="203.32" stroke="#1a1a1a" stroke-width="1.3"/>
<rect x="488.10" y="205.09" width="17.00" height="36.71" fill="#552664"/>
<line x1="496.60" y1="241.80" x2="496.60" y2="245.30" stroke="#1a1a1a" stroke-width="1"/>
<path d="M417 223.75 V216.75 H443.75 V235" fill="none" stroke="#1a1a1a" stroke-width="1.4"/>
<path d="M468.75 186.25 V180.5 H497 V197" fill="none" stroke="#1a1a1a" stroke-width="1.4"/>
<text x="430.60" y="215.50" font-size="8" text-anchor="middle" font-weight="bold" fill="#2b2b2b" stroke="#2b2b2b" stroke-width="0.2">**</text>
<text x="483.00" y="179.10" font-size="8" text-anchor="middle" font-weight="bold" fill="#2b2b2b" stroke="#2b2b2b" stroke-width="0.2">*</text>
<text x="419.60" y="251.40" font-size="8" text-anchor="end" font-weight="normal" fill="#2b2b2b" stroke="#2b2b2b" stroke-width="0.2" transform="rotate(-45 419.60 251.40)">PC TF</text>
<text x="446.10" y="251.40" font-size="8" text-anchor="end" font-weight="normal" fill="#2b2b2b" stroke="#2b2b2b" stroke-width="0.2" transform="rotate(-45 446.10 251.40)">PC/SM TF</text>
<text x="472.60" y="251.40" font-size="8" text-anchor="end" font-weight="normal" fill="#2b2b2b" stroke="#2b2b2b" stroke-width="0.2" transform="rotate(-45 472.60 251.40)">PC/PS TF</text>
<text x="499.10" y="251.40" font-size="8" text-anchor="end" font-weight="normal" fill="#2b2b2b" stroke="#2b2b2b" stroke-width="0.2" transform="rotate(-45 499.10 251.40)">PC/PS/SM TF</text>
<text x="368.30" y="205.90" font-size="9.3" text-anchor="middle" fill="#222" stroke="#222" stroke-width="0.35" textLength="48.60" lengthAdjust="spacingAndGlyphs" transform="rotate(-90 368.30 205.90)">TF-FVIIa activity</text>
<text x="380.00" y="205.70" font-size="9.3" text-anchor="middle" fill="#222" stroke="#222" stroke-width="0.35" textLength="69.50" lengthAdjust="spacingAndGlyphs" transform="rotate(-90 380.00 205.70)">FXa generated, nM/min</text>
</g>
<rect x="0" y="0" width="520" height="1.2" fill="#000"/>
<rect x="0" y="0" width="1.5" height="297" fill="#000"/>
<rect x="518" y="0" width="2" height="297" fill="#000"/>
<rect x="0" y="295.2" width="520" height="1.8" fill="#000"/>
</svg>
</body></html>
